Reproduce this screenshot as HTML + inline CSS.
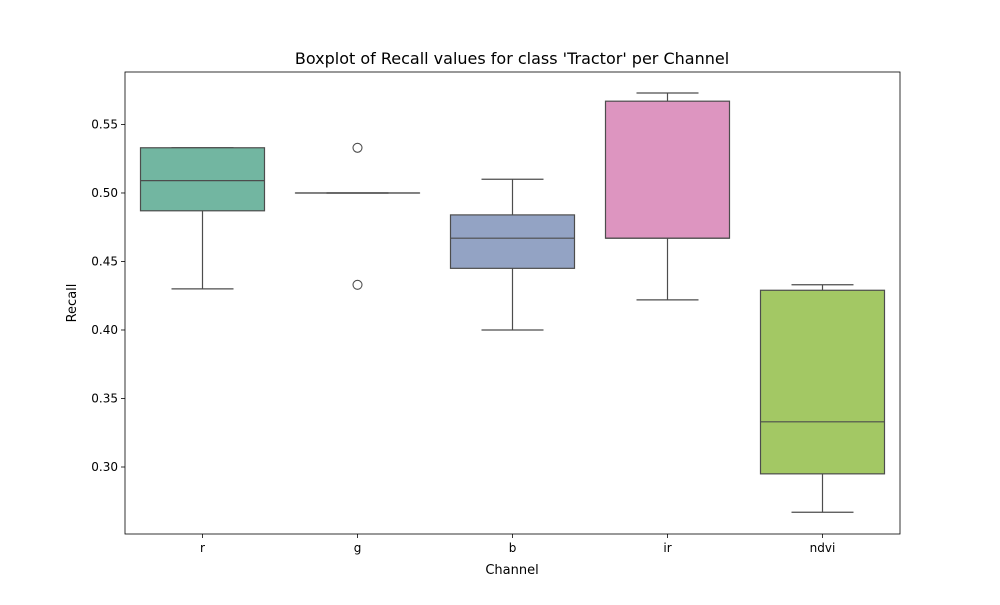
<!DOCTYPE html>
<html><head><meta charset="utf-8"><style>
body{margin:0;background:#fff;font-family:"Liberation Sans","DejaVu Sans",sans-serif}
</style></head><body>
<svg id="chart" width="1000" height="600" xmlns="http://www.w3.org/2000/svg" font-family="DejaVu Sans, Liberation Sans, sans-serif">
<rect width="1000" height="600" fill="#fff"/>
<text x="512" y="64" text-anchor="middle" font-size="16">Boxplot of Recall values for class 'Tractor' per Channel</text>
<g id="plot"></g>
<rect x="125" y="72" width="775" height="462" fill="none" stroke="#000" stroke-width="0.8"/>
<text x="512" y="574" text-anchor="middle" font-size="13">Channel</text>
<text transform="translate(76,303) rotate(-90)" text-anchor="middle" font-size="13">Recall</text>
</svg>
<script>
const categories=['r','g','b','ir','ndvi'];
const whiskerLow=[0.430,0.500,0.400,0.422,0.267];
const q1=[0.487,0.500,0.445,0.467,0.295];
const median=[0.509,0.500,0.467,0.467,0.333];
const q3=[0.533,0.500,0.484,0.567,0.429];
const whiskerHigh=[0.533,0.500,0.510,0.573,0.433];
const outliers=[[],[0.533,0.433],[],[],[]];
const colors=['#72b6a1','#e99675','#93a3c4','#dd95c0','#a3c864'];
const yTicks=[0.30,0.35,0.40,0.45,0.50,0.55];
const NS='http://www.w3.org/2000/svg';
const L=125,R=900,T=72,B=534,ymin=0.2511,ymax=0.5883;
const y=v=>B-(v-ymin)/(ymax-ymin)*(B-T);
const band=(R-L)/categories.length;
const x=i=>L+band*(i+0.5);
const bw=band*0.8;
const g=document.getElementById('plot');
function mk(tag,attrs){const e=document.createElementNS(NS,tag);for(const k in attrs)e.setAttribute(k,attrs[k]);g.appendChild(e);return e;}
yTicks.forEach(t=>{
  const l=mk('line',{x1:L-4,x2:L,y1:y(t),y2:y(t),stroke:'#000','stroke-width':0.8});
  
  
  const tx=mk('text',{x:L-7,y:y(t)+4,'text-anchor':'end','font-size':12});
  
  
  tx.textContent=t.toFixed(2);
});
categories.forEach((c,i)=>{
  const cx=x(i),s='#4d4d4d';
  const t=mk('line',{x1:cx,x2:cx,y1:B,y2:B+4,stroke:'#000','stroke-width':0.8});
  
  
  const tx=mk('text',{x:cx,y:B+18,'text-anchor':'middle','font-size':12});
  
  
  tx.textContent=c;
  const w1=mk('line',{x1:cx,x2:cx,y1:y(whiskerLow[i]),y2:y(q1[i]),stroke:s,'stroke-width':1.2});
  
  
  const w2=mk('line',{x1:cx,x2:cx,y1:y(q3[i]),y2:y(whiskerHigh[i]),stroke:s,'stroke-width':1.2});
  
  
  const c1=mk('line',{x1:cx-bw/4,x2:cx+bw/4,y1:y(whiskerLow[i]),y2:y(whiskerLow[i]),stroke:s,'stroke-width':1.2});
  
  
  const c2=mk('line',{x1:cx-bw/4,x2:cx+bw/4,y1:y(whiskerHigh[i]),y2:y(whiskerHigh[i]),stroke:s,'stroke-width':1.2});
  
  
  const bx=mk('rect',{x:cx-bw/2,y:y(q3[i]),width:bw,height:Math.max(0.01,y(q1[i])-y(q3[i])),fill:colors[i],stroke:s,'stroke-width':1.2});
  
  
  const m=mk('line',{x1:cx-bw/2,x2:cx+bw/2,y1:y(median[i]),y2:y(median[i]),stroke:s,'stroke-width':1.2});
  
  
  outliers[i].forEach(o=>{
    const p=mk('circle',{cx:cx,cy:y(o),r:4.5,fill:'none',stroke:s,'stroke-width':1.1});
    
    
  });
});
</script>
</body></html>
